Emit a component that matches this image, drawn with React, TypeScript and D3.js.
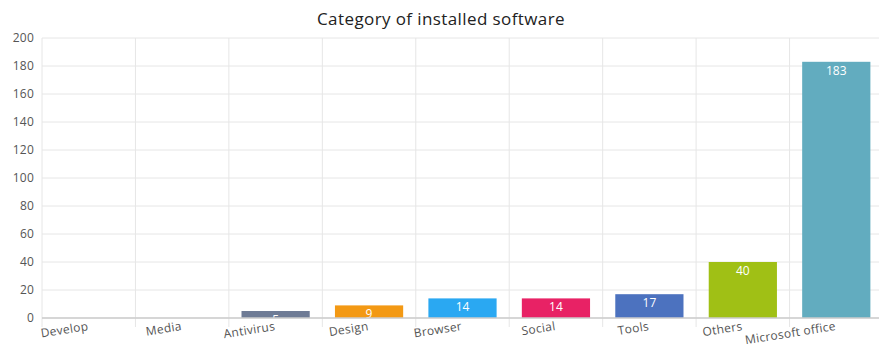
import React from "react";
import * as d3 from "d3";

const categories = ["Develop", "Media", "Antivirus", "Design", "Browser", "Social", "Tools", "Others", "Microsoft office"];
const counts = [0, 0, 5, 9, 14, 14, 17, 40, 183];
const barColors = ["#6e7b95", "#6e7b95", "#6e7b95", "#f39914", "#2aa8f2", "#e82265", "#4c72bf", "#a0c015", "#62acbf"];
const yTicks = [0, 20, 40, 60, 80, 100, 120, 140, 160, 180, 200];
const title = "Category of installed software";

const W = 879;
const H = 348;
const margin = { left: 42, right: -4, top: 38, bottom: 30 };
const FONT = "'Open Sans', 'Noto Sans', sans-serif";

export default function App() {
  const x = d3
    .scaleBand<string>()
    .domain(categories)
    .range([margin.left, W - margin.right])
    .paddingInner(0.27)
    .paddingOuter(0.135);
  const step = x.step();
  const y = d3.scaleLinear().domain([0, 200]).range([H - margin.bottom, margin.top]);
  const y0 = y(0);

  return (
    <svg
      width={W}
      height={H}
      style={{ position: "absolute", left: 0, top: 0, background: "#fff" }}
      fontFamily={FONT}
    >
      <defs>
        <clipPath id="plot">
          <rect x={margin.left} y={margin.top} width={W - margin.left} height={y0 - margin.top} />
        </clipPath>
      </defs>
      <text x={441} y={25} textAnchor="middle" fontSize={17} letterSpacing={0.4} fill="#222">
        {title}
      </text>
      {/* horizontal grid */}
      {yTicks.map((t) => (
        <g key={t}>
          <line x1={margin.left} x2={W} y1={y(t)} y2={y(t)} stroke="#e6e6e6" />
          <text x={34} y={y(t)} dy="0.35em" textAnchor="end" fontSize={12} letterSpacing={0.2} fill="#555">
            {t}
          </text>
        </g>
      ))}
      {/* vertical grid at category boundaries */}
      {categories.map((c, i) => {
        const bx = margin.left + i * step;
        return <line key={c} x1={bx} x2={bx} y1={margin.top} y2={y0 + 9} stroke="#e6e6e6" />;
      })}
      {/* bars */}
      <g clipPath="url(#plot)">
        {categories.map((c, i) => (
          <g key={c}>
            <rect
              x={x(c)}
              y={y(counts[i])}
              width={x.bandwidth()}
              height={y0 - y(counts[i])}
              fill={barColors[i]}
            />
            {counts[i] > 0 && (
              <text
                x={(x(c) as number) + x.bandwidth() / 2}
                y={y(counts[i]) + 13}
                textAnchor="middle"
                fontSize={12}
                fill="#fff"
              >
                {counts[i]}
              </text>
            )}
          </g>
        ))}
      </g>
      <line x1={margin.left} x2={W} y1={y0} y2={y0} stroke="#ccc" strokeWidth={1.5} />
      {/* rotated category labels */}
      {categories.map((c) => {
        const cx = (x(c) as number) + x.bandwidth() / 2;
        return (
          <text
            key={c}
            transform={`translate(${cx},${y0 + 12}) rotate(-9)`}
            textAnchor="end"
            fontSize={12}
            letterSpacing={0.3}
            fill="#555"
          >
            {c}
          </text>
        );
      })}
    </svg>
  );
}
